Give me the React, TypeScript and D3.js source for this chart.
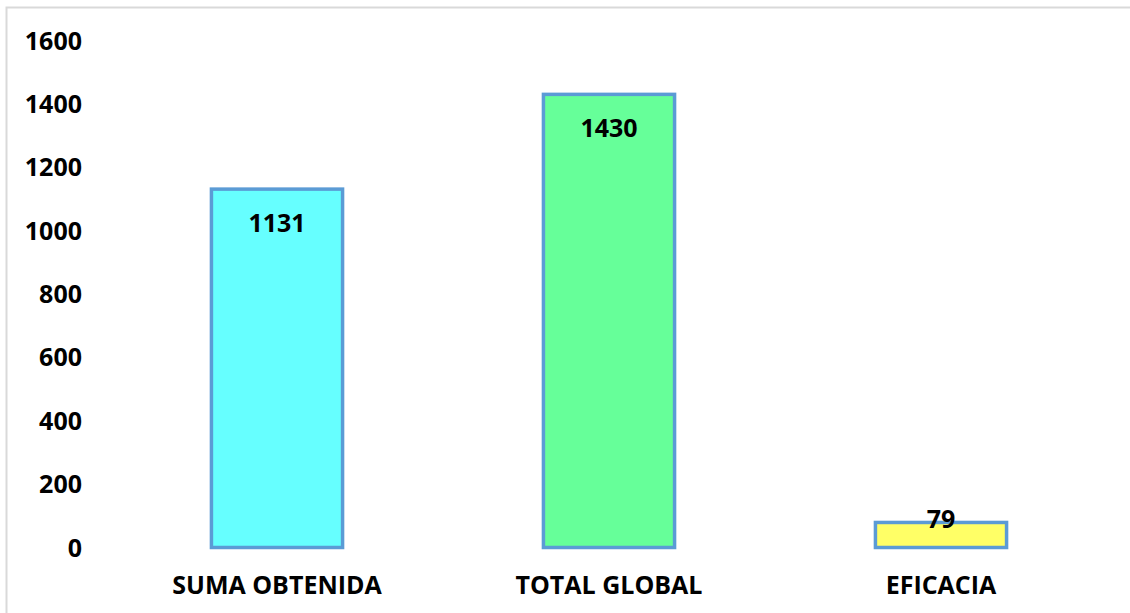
import { useEffect, useRef } from 'react'
import * as d3 from 'd3'

const CATEGORIES = ['SUMA OBTENIDA', 'TOTAL GLOBAL', 'EFICACIA']
const VALUES = [1131, 1430, 79]
const FILLS = ['#66FFFF', '#66FF99', '#FFFF66']
const Y_TICKS = [0, 200, 400, 600, 800, 1000, 1200, 1400, 1600]

const WIDTH = 1130
const HEIGHT = 613
const FONT = '"Open Sans", "Noto Sans", sans-serif'

export default function App() {
  const svgRef = useRef<SVGSVGElement>(null)

  useEffect(() => {
    if (!svgRef.current) return
    const svg = d3.select(svgRef.current)
    svg.selectAll('*').remove()

    // outer frame (goes past the right and bottom edges)
    svg.append('rect')
      .attr('x', 6.5).attr('y', 7.5)
      .attr('width', WIDTH + 20).attr('height', HEIGHT + 20)
      .attr('fill', '#fff').attr('stroke', '#D9D9D9').attr('stroke-width', 2)

    const x = d3.scaleBand<string>()
      .domain(CATEGORIES)
      .range([111, 1107])
      .paddingInner(0.605)
      .paddingOuter(0.3025)
    const y = d3.scaleLinear().domain([0, 1600]).range([547.5, 40.5])

    // y tick labels
    svg.append('g')
      .selectAll('text')
      .data(Y_TICKS)
      .join('text')
      .attr('x', 82)
      .attr('y', d => y(d))
      .attr('dy', '0.36em')
      .attr('text-anchor', 'end')
      .attr('font-family', FONT).attr('font-weight', 700).attr('font-size', 25)
      .attr('fill', '#000')
      .text(d => d)

    // bars
    svg.append('g')
      .selectAll('rect')
      .data(VALUES)
      .join('rect')
      .attr('x', (_, i) => x(CATEGORIES[i])!)
      .attr('y', d => y(d))
      .attr('width', x.bandwidth())
      .attr('height', d => y(0) - y(d))
      .attr('fill', (_, i) => FILLS[i])
      .attr('stroke', '#5B9BD5').attr('stroke-width', 3.5)

    // value labels (inside end, clamped for short bars)
    svg.append('g')
      .selectAll('text')
      .data(VALUES)
      .join('text')
      .attr('x', (_, i) => x(CATEGORIES[i])! + x.bandwidth() / 2)
      .attr('y', d => Math.min(y(d) + 43, y(0) - 20))
      .attr('text-anchor', 'middle')
      .attr('font-family', FONT).attr('font-weight', 700).attr('font-size', 25)
      .attr('fill', '#000')
      .text(d => d)

    // category labels
    svg.append('g')
      .selectAll('text')
      .data(CATEGORIES)
      .join('text')
      .attr('x', d => x(d)! + x.bandwidth() / 2)
      .attr('y', 594)
      .attr('text-anchor', 'middle')
      .attr('font-family', FONT).attr('font-weight', 700).attr('font-size', 25)
      .attr('fill', '#000')
      .text(d => d)
  }, [])

  return (
    <svg
      ref={svgRef}
      width={WIDTH}
      height={HEIGHT}
      style={{ position: 'absolute', left: 0, top: 0, background: '#fff' }}
    />
  )
}
